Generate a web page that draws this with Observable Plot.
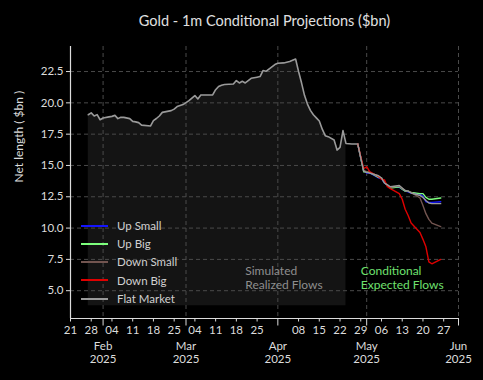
<!DOCTYPE html>
<html><head><meta charset="utf-8">
<script src="https://cdn.jsdelivr.net/npm/d3@7"></script>
<script src="https://cdn.jsdelivr.net/npm/@observablehq/plot@0.6"></script>
<style>
html,body{margin:0;padding:0;background:#000;}
#wrap{position:relative;width:483px;height:380px;background:#000;font-family:Lato,"Open Sans",sans-serif;overflow:hidden;}
#legend{position:absolute;left:81px;top:216.6px;}
#legend .row{display:flex;align-items:center;height:18.25px;}
#legend .sw{width:27px;height:2px;margin-right:9px;}
#legend .lab{font-size:11.5px;color:#d0d0d0;line-height:1;}
</style></head><body><div id="wrap"></div>
<script>
// ---- data ----
const title = "Gold - 1m Conditional Projections ($bn)";
const yLabel = "Net length ( $bn )";
const histDates = ["2025-01-27","2025-01-28","2025-01-29","2025-01-30","2025-01-31","2025-02-01","2025-02-03","2025-02-04","2025-02-05","2025-02-06","2025-02-07","2025-02-08","2025-02-10","2025-02-11","2025-02-12","2025-02-13","2025-02-14","2025-02-17","2025-02-18","2025-02-19","2025-02-20","2025-02-21","2025-02-24","2025-02-25","2025-02-26","2025-02-27","2025-02-28","2025-03-02","2025-03-04","2025-03-05","2025-03-06","2025-03-10","2025-03-11","2025-03-12","2025-03-13","2025-03-14","2025-03-17","2025-03-18","2025-03-19","2025-03-20","2025-03-21","2025-03-23","2025-03-25","2025-03-26","2025-03-27","2025-03-28","2025-03-31","2025-04-01","2025-04-03","2025-04-05","2025-04-07","2025-04-08","2025-04-09","2025-04-10","2025-04-11","2025-04-12","2025-04-13","2025-04-14","2025-04-15","2025-04-16","2025-04-17","2025-04-18","2025-04-20","2025-04-21","2025-04-22","2025-04-23","2025-04-24","2025-04-26","2025-04-28"];
const histValues = [19.05,19.2,18.95,19.06,18.65,18.79,18.88,18.92,19.0,18.74,18.85,18.84,18.74,18.52,18.48,18.42,18.22,18.15,18.58,18.75,18.95,19.24,19.38,19.5,19.7,19.78,19.86,20.18,20.58,20.31,20.63,20.63,21.05,21.3,21.4,21.46,21.5,21.78,21.59,21.72,21.59,21.96,22.05,22.1,22.58,22.52,23.06,23.16,23.19,23.3,23.5,22.5,21.6,20.6,19.9,19.4,19.05,18.8,18.55,17.9,17.38,17.3,17.03,16.23,16.44,17.78,16.76,16.71,16.71];
const realizedEnd = "2025-04-24";
const fillBase = 3.8;
const projDates = ["2025-04-28","2025-04-29","2025-04-30","2025-05-01","2025-05-02","2025-05-05","2025-05-06","2025-05-07","2025-05-08","2025-05-09","2025-05-12","2025-05-13","2025-05-14","2025-05-15","2025-05-16","2025-05-19","2025-05-20","2025-05-21","2025-05-22","2025-05-23","2025-05-26"];
const upSmall   = [16.71,15.6,14.55,14.4,14.4,14.0,13.95,13.6,13.4,13.25,13.25,13.1,12.95,12.9,12.8,12.7,12.55,12.1,12.05,12.05,12.1];
const upBig     = [16.71,15.6,14.5,14.5,14.45,14.05,14.0,13.65,13.4,13.2,13.3,13.1,12.95,12.95,12.85,12.75,12.75,12.45,12.3,12.3,12.4];
const downSmall = [16.71,15.65,14.6,14.5,14.45,14.15,14.0,13.65,13.45,13.25,13.35,13.15,13.0,12.95,12.85,12.4,11.8,11.15,10.7,10.4,10.12];
const downBig   = [16.71,15.7,14.75,14.9,14.5,14.1,13.9,13.85,13.3,13.15,12.75,12.3,11.5,11.0,10.4,9.65,9.1,8.5,7.3,7.15,7.5];
const flatMarket= [16.71,15.6,14.55,14.45,14.4,14.18,14.0,13.6,13.45,13.3,13.4,13.2,13.0,12.95,12.8,12.6,12.45,12.2,12.0,11.95,11.95];
const seriesNames  = ["Up Small","Up Big","Down Small","Down Big","Flat Market"];
const seriesColors = ["#1414ff","#7dff7d","#735550","#e00000","#9a9a9a"];
const yTicks = [5,7.5,10,12.5,15,17.5,20,22.5];
const weekTicks = ["2025-01-21","2025-01-28","2025-02-04","2025-02-11","2025-02-18","2025-02-25","2025-03-04","2025-03-11","2025-03-18","2025-03-25","2025-04-08","2025-04-15","2025-04-22","2025-04-29","2025-05-06","2025-05-13","2025-05-20","2025-05-27"];
const monthTicks = ["2025-02-01","2025-03-01","2025-04-01","2025-05-01","2025-06-01"];
const xDomain = ["2025-01-21","2025-06-01"];
const yDomain = [2.78, 24.5];
const notes = [
  {date:"2025-03-21", value:6.06, text:"Simulated\nRealized Flows", color:"#8e8e8e"},
  {date:"2025-04-29", value:6.06, text:"Conditional\nExpected Flows", color:"#6fe06f"}
];

// ---- build ----
const D = s => new Date(s);
const hist = histDates.map((d,i)=>({date:D(d), value:histValues[i]}));
const realized = hist.filter(d => d.date <= D(realizedEnd));
const allSeries = [upSmall, upBig, downSmall, downBig, flatMarket];
const proj = [];
allSeries.forEach((vals,k)=>vals.forEach((v,i)=>proj.push({date:D(projDates[i]), value:v, series:seriesNames[k]})));
const noteData = notes.map(n=>({...n, date:D(n.date)}));

const chart = Plot.plot({
  width:483, height:380,
  marginLeft:70, marginRight:25, marginTop:46, marginBottom:62,
  style:{background:"#000", color:"#dcdcdc", fontFamily:"Lato, 'Open Sans', sans-serif", fontSize:"11.5px"},
  x:{type:"utc", domain:xDomain.map(D)},
  y:{domain:yDomain},
  color:{domain:seriesNames, range:seriesColors},
  marks:[
    Plot.areaY(realized, {x:"date", y1:fillBase, y2:"value", fill:"#141414", curve:"linear"}),
    Plot.gridX(monthTicks.map(D), {stroke:"#4a4a4a", strokeOpacity:1, strokeDasharray:"4,3"}),
    Plot.gridY(yTicks, {stroke:"#4a4a4a", strokeOpacity:1, strokeDasharray:"4,3"}),
    Plot.axisY({ticks:yTicks, tickFormat:d3.format(".1f"), tickSize:4, tickPadding:3, stroke:"#dcdcdc", label:null, fontSize:11.5}),
    Plot.axisX({ticks:weekTicks.map(D), tickFormat:d3.utcFormat("%d"), tickSize:3.5, tickPadding:3.5, stroke:"#dcdcdc", label:null, fontSize:11.5}),
    Plot.axisX({ticks:monthTicks.map(D), tickFormat:d=>d3.utcFormat("%b")(d)+"\n"+d3.utcFormat("%Y")(d), tickSize:7.5, tickPadding:15, stroke:"#dcdcdc", label:null, fontSize:11.5, lineHeight:1.13}),
    Plot.ruleX([D(xDomain[0])], {stroke:"#dcdcdc", strokeWidth:1.2}),
    Plot.ruleY([yDomain[0]], {stroke:"#dcdcdc", strokeWidth:1.2}),
    Plot.lineY(hist, {x:"date", y:"value", stroke:"#9a9a9a", strokeWidth:1.6}),
    Plot.lineY(proj, {x:"date", y:"value", z:"series", stroke:"series", strokeWidth:1.4}),
    Plot.text(noteData, {x:"date", y:"value", text:"text", fill:"color", textAnchor:"start", lineAnchor:"middle", fontSize:12, lineHeight:1.18}),
    Plot.text([yLabel], {frameAnchor:"left", text:d=>d, rotate:-90, dx:-51, fontSize:12, fill:"#dcdcdc"}),
    Plot.text([title], {frameAnchor:"top", text:d=>d, dy:-25, fontSize:14.5, fill:"#e0e0e0", lineAnchor:"middle"})
  ]
});
const wrap = document.getElementById("wrap");
wrap.appendChild(chart);
const leg = document.createElement("div");
leg.id = "legend";
seriesNames.forEach((n,i)=>{
  const r = document.createElement("div"); r.className="row";
  const s = document.createElement("div"); s.className="sw"; s.style.background=seriesColors[i];
  const l = document.createElement("div"); l.className="lab"; l.textContent=n;
  r.appendChild(s); r.appendChild(l); leg.appendChild(r);
});
wrap.appendChild(leg);
</script></body></html>
